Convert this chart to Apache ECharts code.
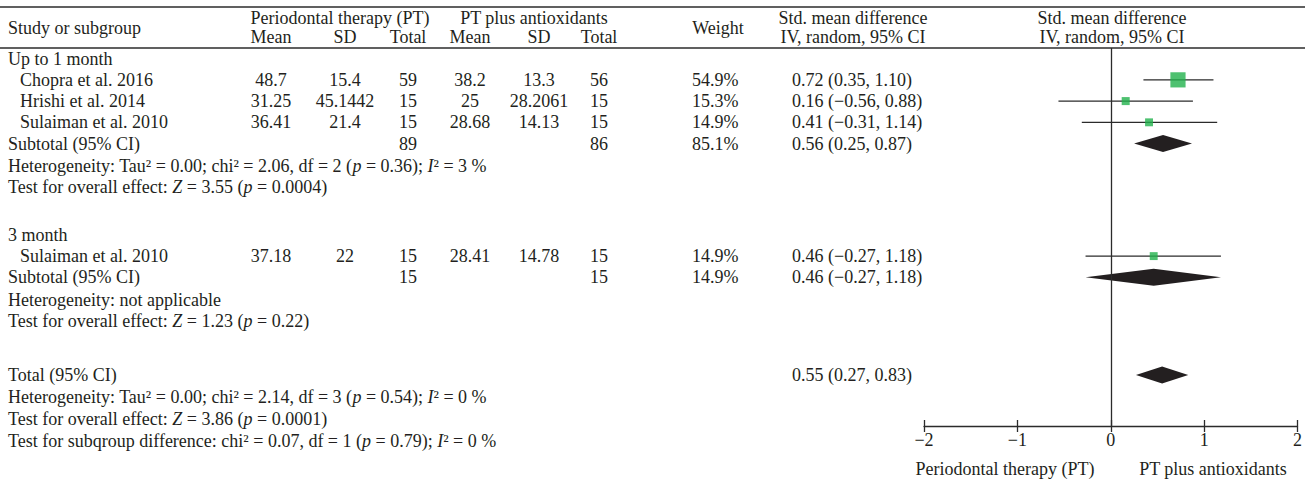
<!DOCTYPE html>
<html>
<head>
<meta charset="utf-8">
<script src="https://cdn.jsdelivr.net/npm/echarts@6/dist/echarts.min.js"></script>
<style>
  html, body { margin: 0; padding: 0; background: #ffffff; }
  #chart { width: 1305px; height: 487px; }
</style>
</head>
<body>
<div id="chart"></div>
<script>
// ---- Data -----------------------------------------------------------
const groupLabels = ['Up to 1 month', '3 month'];
const studyNames = ['Chopra et al. 2016', 'Hrishi et al. 2014', 'Sulaiman et al. 2010', 'Sulaiman et al. 2010'];
const studyGroup = [0, 0, 0, 1];
const ptMean = [48.7, 31.25, 36.41, 37.18];
const ptSD = [15.4, 45.1442, 21.4, 22];
const ptTotal = [59, 15, 15, 15];
const aoMean = [38.2, 25, 28.68, 28.41];
const aoSD = [13.3, 28.2061, 14.13, 14.78];
const aoTotal = [56, 15, 15, 15];
const studyWeight = [54.9, 15.3, 14.9, 14.9];
const studySMD = [0.72, 0.16, 0.41, 0.46];
const studyLow = [0.35, -0.56, -0.31, -0.27];
const studyHigh = [1.10, 0.88, 1.14, 1.18];

const pooledLabels = ['Subtotal (95% CI)', 'Subtotal (95% CI)', 'Total (95% CI)'];
const pooledPtTotal = [89, 15, null];
const pooledAoTotal = [86, 15, null];
const pooledWeight = [85.1, 14.9, null];
const pooledSMD = [0.56, 0.46, 0.55];
const pooledLow = [0.25, -0.27, 0.27];
const pooledHigh = [0.87, 1.18, 0.83];

const group1Stats = [
  'Heterogeneity: Tau² = 0.00; chi² = 2.06, df = 2 ({i|p} = 0.36); {i|I}² = 3 %',
  'Test for overall effect: {i|Z} = 3.55 ({i|p} = 0.0004)'
];
const group2Stats = [
  'Heterogeneity: not applicable',
  'Test for overall effect: {i|Z} = 1.23 ({i|p} = 0.22)'
];
const totalStats = [
  'Heterogeneity: Tau² = 0.00; chi² = 2.14, df = 3 ({i|p} = 0.54); {i|I}² = 0 %',
  'Test for overall effect: {i|Z} = 3.86 ({i|p} = 0.0001)',
  'Test for subqroup difference: chi² = 0.07, df = 1 ({i|p} = 0.79); {i|I}² = 0 %'
];

const xTicks = [-2, -1, 0, 1, 2];
const favourLabels = ['Periodontal therapy (PT)', 'PT plus antioxidants'];

// ---- Layout (row slots in line units, pixel columns) ---------------
const FONT = 'Liberation Serif';
const FS = 18;
const INK = '#231f20';
const LINE = '#2b2b2b';
const GREEN = '#22b14c';

const GRID = { left: 924, right: 4, top: 48, bottom: 61 };
const Y_MAX = 17.8;

// row slot of each printed line
const groupStart = [0.5, 8.8];
const totalStart = 15.4;
const studySlot = [1.5, 2.5, 3.5, 9.8];
const pooledSlot = [4.5, 10.8, totalStart];
const groupStatSlot = [[5.55, 6.55], [11.85, 12.85]];
const totalStatSlot = [16.45, 17.45, 18.5];

const COL = { name: 8, indent: 20, ptMean: 271, ptSD: 345, ptTotal: 408,
              aoMean: 470, aoSD: 539, aoTotal: 599, weight: 692, ci: 792 };
const HEAD_Y = [18, 37];

// ---- Helpers --------------------------------------------------------
const fmtNum = v => (v < 0 ? '\u2212' : '') + Math.abs(v).toFixed(2);
const fmtCI = (e, lo, hi) => `${fmtNum(e)} (${fmtNum(lo)}, ${fmtNum(hi)})`;

const chart = echarts.init(document.getElementById('chart'), null, { renderer: 'svg' });

const whiskerData = studySMD.map((_, i) => [studyLow[i], studyHigh[i], studySlot[i]]);
const squareData = studySMD.map((v, i) => [v, studySlot[i], studyWeight[i]]);
const diamondData = pooledSMD.map((v, i) => [pooledLow[i], v, pooledHigh[i], pooledSlot[i]]);

const option = {
  animation: false,
  backgroundColor: '#ffffff',
  grid: GRID,
  xAxis: [
    {
      type: 'value', min: -2, max: 2, interval: 1, position: 'bottom',
      axisLine: { onZero: false, lineStyle: { color: LINE, width: 1.3 } },
      axisTick: { length: 6, lineStyle: { color: LINE, width: 1.3 } },
      axisLabel: {
        color: INK, fontFamily: FONT, fontSize: FS, margin: 5,
        formatter: v => (v < 0 ? '\u2212' + Math.abs(v) : String(v))
      },
      splitLine: { show: false }
    },
    {
      type: 'value', min: -2, max: 2, interval: 1, position: 'bottom',
      axisLine: { show: false, onZero: false },
      axisTick: { inside: true, length: 6, lineStyle: { color: LINE, width: 1.3 } },
      axisLabel: { show: false },
      splitLine: { show: false }
    }
  ],
  yAxis: {
    type: 'value', min: 0, max: Y_MAX, inverse: true, show: false,
    axisLine: { onZero: false }, splitLine: { show: false }
  },
  series: [
    {
      type: 'custom',
      name: 'ci',
      data: whiskerData,
      encode: { x: [0, 1], y: 2 },
      z: 2,
      renderItem: (params, api) => {
        const a = api.coord([api.value(0), api.value(2)]);
        const b = api.coord([api.value(1), api.value(2)]);
        return {
          type: 'line',
          shape: { x1: a[0], y1: a[1], x2: b[0], y2: b[1] },
          style: { stroke: LINE, lineWidth: 1.3 }
        };
      }
    },
    {
      type: 'scatter',
      name: 'estimate',
      data: squareData,
      symbol: 'rect',
      symbolSize: v => 2.05 * Math.sqrt(v[2]),
      itemStyle: { color: GREEN },
      z: 3,
      markLine: {
        silent: true, symbol: 'none', animation: false,
        label: { show: false },
        lineStyle: { color: LINE, width: 1.3, type: 'solid' },
        data: [{ xAxis: 0 }]
      }
    },
    {
      type: 'custom',
      name: 'pooled',
      data: diamondData,
      encode: { x: [0, 1, 2], y: 3 },
      z: 4,
      renderItem: (params, api) => {
        const y = api.value(3);
        const l = api.coord([api.value(0), y]);
        const c = api.coord([api.value(1), y]);
        const r = api.coord([api.value(2), y]);
        const h = 8.5;
        return {
          type: 'polygon',
          shape: { points: [[l[0], l[1]], [c[0], c[1] - h], [r[0], r[1]], [c[0], c[1] + h]] },
          style: { fill: INK }
        };
      }
    }
  ]
};

chart.setOption(option);

// ---- Table text -----------------------------------------------------
const rowPx = u => chart.convertToPixel({ yAxisIndex: 0 }, u);
const richStyle = { i: { fontStyle: 'italic', fontFamily: FONT, fontSize: FS, fill: INK } };

function txt(text, x, y, align) {
  return {
    type: 'text', x: x, y: y, silent: true,
    style: {
      text: text, fontFamily: FONT, fontSize: FS, fill: INK,
      textAlign: align || 'left', textVerticalAlign: 'middle', rich: richStyle
    }
  };
}

const W = 1305;
const els = [];
// horizontal rules
els.push({ type: 'line', shape: { x1: 0, y1: 7, x2: W, y2: 7 }, style: { stroke: LINE, lineWidth: 1.5 } });
els.push({ type: 'line', shape: { x1: 0, y1: GRID.top, x2: W, y2: GRID.top }, style: { stroke: LINE, lineWidth: 1.5 } });

// header
const headMid = (HEAD_Y[0] + HEAD_Y[1]) / 2;
els.push(txt('Study or subgroup', COL.name, headMid));
els.push(txt('Periodontal therapy (PT)', 340, HEAD_Y[0], 'center'));
els.push(txt('PT plus antioxidants', 534, HEAD_Y[0], 'center'));
[['Mean', COL.ptMean], ['SD', COL.ptSD], ['Total', COL.ptTotal],
 ['Mean', COL.aoMean], ['SD', COL.aoSD], ['Total', COL.aoTotal]].forEach(([t, x]) => els.push(txt(t, x, HEAD_Y[1], 'center')));
els.push(txt('Weight', 718, headMid, 'center'));
els.push(txt('Std. mean difference', 853, HEAD_Y[0], 'center'));
els.push(txt('IV, random, 95% CI', 853, HEAD_Y[1], 'center'));
els.push(txt('Std. mean difference', 1112, HEAD_Y[0], 'center'));
els.push(txt('IV, random, 95% CI', 1112, HEAD_Y[1], 'center'));

// subgroup headings
groupLabels.forEach((g, k) => els.push(txt(g, COL.name, rowPx(groupStart[k]))));

// individual studies
studyNames.forEach((name, i) => {
  const y = rowPx(studySlot[i]);
  els.push(txt(name, COL.indent, y));
  els.push(txt(String(ptMean[i]), COL.ptMean, y, 'center'));
  els.push(txt(String(ptSD[i]), COL.ptSD, y, 'center'));
  els.push(txt(String(ptTotal[i]), COL.ptTotal, y, 'center'));
  els.push(txt(String(aoMean[i]), COL.aoMean, y, 'center'));
  els.push(txt(String(aoSD[i]), COL.aoSD, y, 'center'));
  els.push(txt(String(aoTotal[i]), COL.aoTotal, y, 'center'));
  els.push(txt(studyWeight[i].toFixed(1) + '%', COL.weight, y));
  els.push(txt(fmtCI(studySMD[i], studyLow[i], studyHigh[i]), COL.ci, y));
});

// pooled rows
pooledLabels.forEach((label, k) => {
  const y = rowPx(pooledSlot[k]);
  els.push(txt(label, COL.name, y));
  if (pooledPtTotal[k] != null) els.push(txt(String(pooledPtTotal[k]), COL.ptTotal, y, 'center'));
  if (pooledAoTotal[k] != null) els.push(txt(String(pooledAoTotal[k]), COL.aoTotal, y, 'center'));
  if (pooledWeight[k] != null) els.push(txt(pooledWeight[k].toFixed(1) + '%', COL.weight, y));
  els.push(txt(fmtCI(pooledSMD[k], pooledLow[k], pooledHigh[k]), COL.ci, y));
});

// heterogeneity and test lines
[group1Stats, group2Stats].forEach((lines, k) =>
  lines.forEach((t, j) => els.push(txt(t, COL.name, rowPx(groupStatSlot[k][j])))));
totalStats.forEach((t, j) => els.push(txt(t, COL.name, rowPx(totalStatSlot[j]))));

// direction labels under the axis
els.push(txt(favourLabels[0], 1005, 469, 'center'));
els.push(txt(favourLabels[1], 1213, 469, 'center'));

chart.setOption({ graphic: { elements: els } });
</script>
</body>
</html>
